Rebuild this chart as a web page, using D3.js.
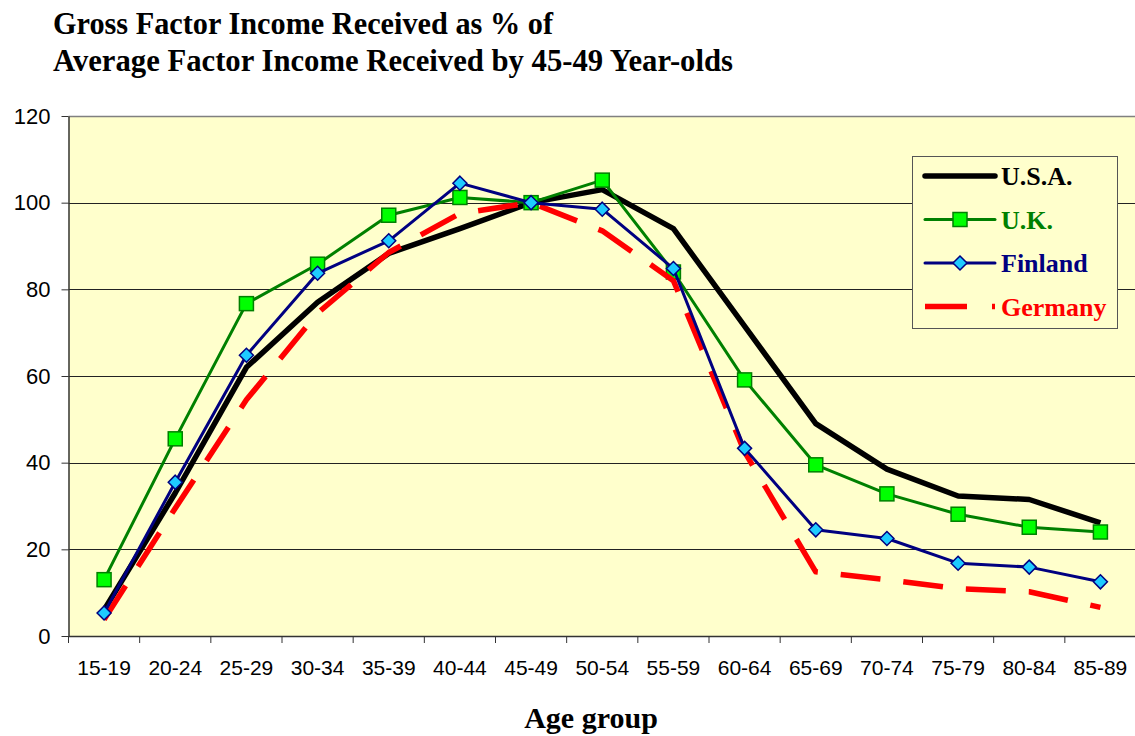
<!DOCTYPE html>
<html>
<head>
<meta charset="utf-8">
<script src="https://cdn.jsdelivr.net/npm/d3@7"></script>
<style>
  body { margin: 0; background: #fff; }
  svg { display: block; }
</style>
</head>
<body>
<svg id="chart" width="1135" height="736"></svg>
<script>
// age groups on the x axis
const ageGroups = ["15-19", "20-24", "25-29", "30-34", "35-39", "40-44", "45-49",
  "50-54", "55-59", "60-64", "65-69", "70-74", "75-79", "80-84", "85-89"];

// income as % of the 45-49 average
const usa = [6, 33, 62, 77, 88.3, 94, 100, 103, 94, 71.5, 49, 38.5, 32.3, 31.5, 26.1];
const uk = [13, 45.5, 76.7, 85.8, 97.1, 101.2, 100, 105.2, 84, 59.1, 39.5, 32.8, 28.1, 25.1, 24];
const finland = [5.3, 35.5, 64.8, 83.7, 91.2, 104.5, 100, 98.5, 84.8, 43.3, 24.5, 22.5, 16.8, 15.9, 12.5];
const germany = [3.8, 29.5, 54.5, 74.5, 88.5, 97.5, 100, 93.5, 82, 42.5, 14.8, 13, 10.9, 10.2, 6.6];

const yTicks = [0, 20, 40, 60, 80, 100, 120];
const titleLines = ["Gross Factor Income Received as % of",
  "Average Factor Income Received by 45-49 Year-olds"];

const svg = d3.select("#chart");
const plot = { left: 68.5, right: 1136, top: 116, bottom: 636 };

var x = d3.scaleBand().domain(ageGroups).range([plot.left, plot.right]).padding(0);
var y = d3.scaleLinear().domain([0, 120]).range([plot.bottom, plot.top]);
var cx = d => x(d) + x.bandwidth() / 2;

// plot background
svg.append("rect")
  .attr("x", plot.left).attr("y", plot.top)
  .attr("width", plot.right - plot.left).attr("height", plot.bottom - plot.top)
  .attr("fill", "#ffffcc");

// gridlines
svg.append("g")
  .selectAll("line")
  .data(yTicks.filter(d => d > 0 && d < 120))
  .enter().append("line")
  .attr("x1", plot.left).attr("x2", plot.right)
  .attr("y1", d => Math.round(y(d)) + 0.5).attr("y2", d => Math.round(y(d)) + 0.5)
  .attr("stroke", "#222").attr("stroke-width", 1);

// top border
svg.append("line")
  .attr("x1", plot.left).attr("x2", plot.right)
  .attr("y1", y(120) + 0.5).attr("y2", y(120) + 0.5)
  .attr("stroke", "#808080").attr("stroke-width", 1.5);

// y axis
var yAxis = svg.append("g")
  .attr("transform", "translate(" + plot.left + ",0)")
  .call(d3.axisLeft(y).tickValues(yTicks).tickSize(7).tickPadding(11).tickSizeOuter(0));
yAxis.select(".domain").attr("stroke", "#333").attr("stroke-width", 1.5);
yAxis.selectAll(".tick line").attr("stroke", "#333");
yAxis.selectAll("text")
  .attr("font-family", "Liberation Sans, Arial, sans-serif")
  .attr("font-size", 22).attr("fill", "#000");

// x axis: labels centred, tick marks on the category boundaries
var xAxis = svg.append("g")
  .attr("transform", "translate(0," + plot.bottom + ")")
  .call(d3.axisBottom(x).tickSize(0).tickPadding(24).tickSizeOuter(0));
xAxis.select(".domain").attr("stroke", "#333").attr("stroke-width", 1.5);
xAxis.selectAll("text")
  .attr("font-family", "Liberation Sans, Arial, sans-serif")
  .attr("font-size", 21).attr("fill", "#000");
xAxis.selectAll(".boundary")
  .data(ageGroups)
  .enter().append("line")
  .attr("class", "boundary")
  .attr("x1", d => x(d)).attr("x2", d => x(d))
  .attr("y1", 0).attr("y2", 7)
  .attr("stroke", "#333");

// series lines
var line = d3.line()
  .x((d, i) => cx(ageGroups[i]))
  .y(d => y(d));

var series = [
  { name: "U.S.A.", values: usa, color: "#000000", width: 5.5, dash: null, marker: null },
  { name: "U.K.", values: uk, color: "#008000", width: 3, dash: null, marker: "square" },
  { name: "Germany", values: germany, color: "#ff0000", width: 5.5, dash: "40,23", marker: null },
  { name: "Finland", values: finland, color: "#000080", width: 3, dash: null, marker: "diamond" }
];

function drawMarker(g, kind, px, py) {
  if (kind === "square") {
    g.append("rect")
      .attr("x", px - 7).attr("y", py - 7).attr("width", 14).attr("height", 14)
      .attr("fill", "#00ff00").attr("stroke", "#008000").attr("stroke-width", 1.5);
  } else if (kind === "diamond") {
    g.append("path")
      .attr("d", "M" + px + "," + (py - 7) + "L" + (px + 7) + "," + py +
        "L" + px + "," + (py + 7) + "L" + (px - 7) + "," + py + "Z")
      .attr("fill", "#1ecbff").attr("stroke", "#000080").attr("stroke-width", 1.5);
  }
}

series.forEach(function(s) {
  var g = svg.append("g");
  g.append("path")
    .attr("d", line(s.values))
    .attr("fill", "none")
    .attr("stroke", s.color)
    .attr("stroke-width", s.width)
    .attr("stroke-linejoin", "round")
    .attr("stroke-dasharray", s.dash);
  if (s.marker) {
    s.values.forEach(function(v, i) {
      drawMarker(g, s.marker, cx(ageGroups[i]), y(v));
    });
  }
});

// legend
var legendOrder = ["U.S.A.", "U.K.", "Finland", "Germany"];
var legend = svg.append("g");
legend.append("rect")
  .attr("x", 912.5).attr("y", 156.5).attr("width", 205).attr("height", 172)
  .attr("fill", "#ffffcc").attr("stroke", "#555").attr("stroke-width", 1);

legendOrder.forEach(function(name, i) {
  var s = series.find(d => d.name === name);
  var ly = 176 + i * 43.5;
  legend.append("line")
    .attr("x1", 925).attr("x2", 995).attr("y1", ly).attr("y2", ly)
    .attr("stroke", s.color).attr("stroke-width", s.width)
    .attr("stroke-linecap", s.dash ? "butt" : "round")
    .attr("stroke-dasharray", s.dash ? "42,25" : null);
  if (s.marker) drawMarker(legend, s.marker, 960, ly);
  legend.append("text")
    .attr("x", 1001).attr("y", ly + 9)
    .attr("font-family", "Liberation Serif, Times New Roman, serif")
    .attr("font-weight", "bold").attr("font-size", 26)
    .attr("fill", s.color)
    .text(name);
});

// title
svg.append("g")
  .selectAll("text")
  .data(titleLines)
  .enter().append("text")
  .attr("x", 53).attr("y", (d, i) => 34 + i * 37)
  .attr("font-family", "Liberation Serif, Times New Roman, serif")
  .attr("font-weight", "bold").attr("font-size", 31)
  .attr("textLength", (d, i) => [500, 680][i])
  .attr("lengthAdjust", "spacingAndGlyphs")
  .text(d => d);

// x axis title
svg.append("text")
  .attr("x", 591).attr("y", 728)
  .attr("text-anchor", "middle")
  .attr("font-family", "Liberation Serif, Times New Roman, serif")
  .attr("font-weight", "bold").attr("font-size", 30)
  .text("Age group");
</script>
</body>
</html>
